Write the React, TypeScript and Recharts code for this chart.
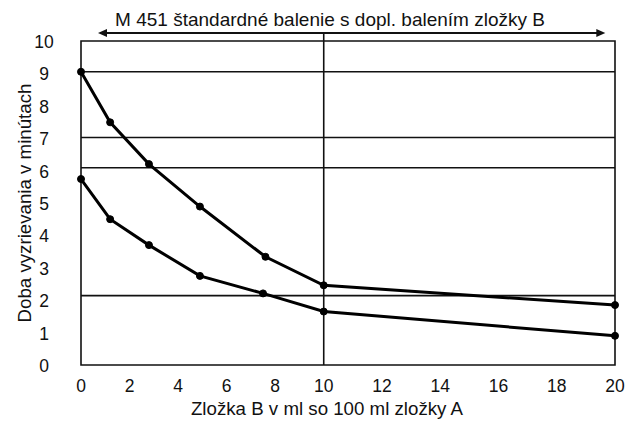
import { LineChart, Line, XAxis, YAxis, ReferenceLine, ReferenceArea } from "recharts";

// x positions in ml of component B, y values in minutes
const upperX = [0, 1.2, 2.8, 4.9, 7.6, 10, 20];
const upperY = [9.05, 7.49, 6.2, 4.89, 3.34, 2.46, 1.85];
const lowerX = [0, 1.2, 2.8, 4.9, 7.5, 10, 20];
const lowerY = [5.74, 4.5, 3.7, 2.75, 2.21, 1.65, 0.9];

const xTickValues = [0, 2, 4, 6, 8, 10, 12, 14, 16, 18, 20];
const yTickValues = [0, 1, 2, 3, 4, 5, 6, 7, 8, 9, 10];
const guideLevels = [9.05, 7.02, 6.09, 2.14];

const topTitle = "M 451 štandardné balenie s dopl. balením zložky B";
const xTitle = "Zložka B v ml so 100 ml zložky A";
const yTitle = "Doba vyzrievania v minútach";

// the original axis is wider per unit above 10 ml
const stretch = (x: number) => (x <= 10 ? x : 10 + (x - 10) * 1.2);
const unstretch = (u: number) => (u <= 10 ? u : 10 + (u - 10) / 1.2);

const upper = upperX.map((x, i) => ({ u: stretch(x), v: upperY[i] }));
const lower = lowerX.map((x, i) => ({ u: stretch(x), v: lowerY[i] }));

const FONT = "'Liberation Sans', Arial, sans-serif";
const INK = "#111";

function ArrowShape(props: any) {
  const { x1, y1, x2, y2 } = props;
  return (
    <g>
      <line x1={x1 + 6} y1={y1} x2={x2 - 6} y2={y2} stroke={INK} strokeWidth={2} />
      <polygon points={`${x1},${y1} ${x1 + 9},${y1 - 4} ${x1 + 9},${y1 + 4}`} fill={INK} />
      <polygon points={`${x2},${y2} ${x2 - 9},${y2 - 4} ${x2 - 9},${y2 + 4}`} fill={INK} />
      <text x={330} y={y1 - 7} textAnchor="middle" fontSize={19} fontFamily={FONT} fill={INK}>
        {topTitle}
      </text>
    </g>
  );
}

function YTick(props: any) {
  return (
    <text
      x={44}
      y={props.y + 1}
      textAnchor="middle"
      dominantBaseline="central"
      fontSize={17.5}
      fontFamily={FONT}
      fill={INK}
    >
      {props.payload.value}
    </text>
  );
}

export default function App() {
  return (
    <div style={{ width: 627, height: 421 }}>
      <style>{`body{margin:0}`}</style>
      <LineChart width={627} height={421} margin={{ top: 41, right: 12, bottom: 0, left: 0 }}>
        <XAxis
          type="number"
          dataKey="u"
          domain={[0, 22]}
          ticks={xTickValues.map(stretch)}
          tickFormatter={(u) => String(Math.round(unstretch(u)))}
          height={56}
          axisLine={false}
          tickLine={false}
          tickSize={6}
          tickMargin={9}
          tick={{ fontSize: 17.5, fontFamily: FONT, fill: INK }}
          label={{
            content: () => (
              <text x={327} y={415} textAnchor="middle" fontSize={18.7} fontFamily={FONT} fill={INK}>
                {xTitle}
              </text>
            ),
          }}
        />
        <YAxis
          type="number"
          domain={[0, 10]}
          ticks={yTickValues}
          width={81}
          axisLine={false}
          tickLine={false}
          tick={<YTick />}
          label={{
            content: () => (
              <text
                x={0}
                y={0}
                transform="translate(31,203) rotate(-90)"
                textAnchor="middle"
                fontSize={18.7}
                fontFamily={FONT}
                fill={INK}
              >
                {yTitle}
              </text>
            ),
          }}
        />
        <ReferenceArea x1={0} x2={22} y1={0} y2={10} fill="none" stroke={INK} strokeWidth={1.6} ifOverflow="visible" />
        {guideLevels.map((g) => (
          <ReferenceLine key={g} y={g} stroke={INK} strokeWidth={1.6} />
        ))}
        <ReferenceLine
          segment={[{ x: 10, y: 0 }, { x: 10, y: 10.25 }]}
          stroke={INK}
          strokeWidth={1.6}
          ifOverflow="visible"
        />
        <ReferenceLine
          segment={[{ x: 0.7, y: 10.25 }, { x: 21.6, y: 10.25 }]}
          ifOverflow="visible"
          shape={ArrowShape}
        />
        <Line
          data={upper}
          dataKey="v"
          type="linear"
          stroke="#000"
          strokeWidth={3}
          dot={{ r: 3.5, fill: "#000", stroke: "#000", strokeWidth: 1 }}
          isAnimationActive={false}
        />
        <Line
          data={lower}
          dataKey="v"
          type="linear"
          stroke="#000"
          strokeWidth={3}
          dot={{ r: 3.5, fill: "#000", stroke: "#000", strokeWidth: 1 }}
          isAnimationActive={false}
        />
      </LineChart>
    </div>
  );
}
